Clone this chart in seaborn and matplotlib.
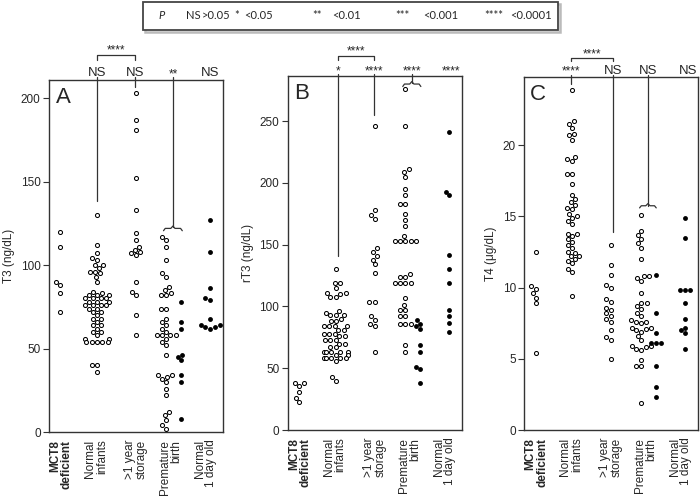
"""
Thyroid hormone levels by group: three beeswarm panels (T3, rT3, T4)
"""

import warnings
import matplotlib
matplotlib.use('Agg')
import matplotlib.pyplot as plt
from matplotlib.patches import Rectangle
import pandas as pd
import seaborn as sns

warnings.filterwarnings("ignore")  # swarm gutter warnings

sns.set_style("white")
plt.rcParams['font.family'] = ['Liberation Sans', 'DejaVu Sans']

group_labels = ["MCT8\ndeficient", "Normal\ninfants", ">1 year\nstorage",
                "Premature\nbirth", "Normal\n1 day old"]

# --- T3 (ng/dL) ---
t3_mct8 = [120, 111, 90, 88, 83, 72]
t3_normal = [130, 112, 107, 104, 103, 100, 100, 98, 96, 96, 95, 93, 90, 84, 83,
             82, 82, 82, 80, 80, 80, 80, 78, 78, 78, 76, 76, 76, 76, 74, 74, 72,
             72, 70, 68, 68, 66, 64, 64, 62, 60, 60, 58, 56, 56, 54, 54, 54, 54,
             54, 40, 40, 36]
t3_storage = [203, 187, 181, 152, 133, 119, 115, 111, 109, 108, 107, 106, 90,
              84, 82, 70, 58]
t3_premature = [117, 115, 111, 103, 95, 93, 87, 85, 83, 82, 82, 74, 74, 68, 66,
                64, 62, 60, 58, 58, 58, 58, 56, 54, 52, 46, 34, 34, 33, 32, 30,
                26, 22, 12, 10, 7, 4, 2]
t3_premature_filled = [78, 66, 62, 46, 45, 43, 34, 30, 8]
t3_day1 = [127, 108, 86, 80, 79, 68, 64, 64, 63, 63, 62]

# --- rT3 (ng/dL) ---
rt3_mct8 = [38, 38, 36, 31, 26, 23]
rt3_normal = [130, 119, 119, 115, 111, 111, 110, 108, 108, 96, 95, 93, 93, 93,
              90, 88, 88, 84, 84, 84, 84, 81, 81, 78, 78, 78, 76, 76, 73, 73,
              73, 70, 70, 67, 67, 63, 63, 63, 63, 63, 61, 61, 58, 58, 58, 58,
              58, 56, 43, 40]
rt3_storage = [246, 178, 174, 171, 147, 144, 141, 138, 134, 127, 104, 104, 92,
               89, 86, 84, 63]
rt3_premature = [276, 246, 211, 209, 205, 195, 190, 183, 183, 175, 170, 165,
                 157, 153, 153, 153, 153, 153, 126, 124, 124, 119, 119, 119,
                 119, 107, 101, 97, 97, 92, 92, 86, 86, 86, 69, 63]
rt3_premature_filled = [89, 86, 84, 82, 69, 63, 51, 49, 38]
rt3_day1 = [241, 193, 190, 142, 130, 119, 97, 92, 87, 79]

# --- T4 (ug/dL) ---
t4_mct8 = [12.5, 10.1, 9.9, 9.6, 9.3, 8.9, 5.4]
t4_normal = [23.9, 21.7, 21.5, 21.2, 20.8, 20.7, 20.4, 19.2, 19.0, 18.9, 18.0,
             18.0, 17.3, 16.5, 16.2, 16.0, 15.8, 15.6, 15.5, 15.2, 15.0, 14.9,
             14.7, 14.5, 13.8, 13.8, 13.6, 13.4, 13.2, 13.0, 12.8, 12.5, 12.4,
             12.2, 12.2, 12.0, 11.9, 11.7, 11.3, 11.1, 9.4]
t4_storage = [13.0, 11.6, 10.9, 10.2, 10.0, 9.2, 9.0, 8.6, 8.4, 8.2, 8.0, 7.8,
              7.6, 7.0, 6.5, 6.3, 5.0]
t4_premature = [15.1, 14.0, 13.7, 13.4, 13.1, 12.8, 12.0, 10.8, 10.8, 10.7,
                10.5, 9.6, 8.9, 8.9, 8.7, 8.5, 8.2, 8.0, 7.7, 7.6, 7.6, 7.5,
                7.2, 7.2, 7.1, 7.0, 6.9, 6.6, 6.3, 5.9, 5.9, 5.8, 5.7, 5.6, 4.9,
                4.5, 4.5, 1.9]
t4_premature_filled = [10.9, 8.2, 6.8, 6.1, 6.1, 6.1, 4.5, 3.0, 2.3]
t4_day1 = [14.9, 13.5, 9.8, 9.8, 9.8, 8.9, 7.8, 7.2, 7.0, 6.8, 5.7]

# column centres along x (layout only)
X_COLS = {"mct8": -0.17, "normal": 0.88, "storage": 1.99,
          "premature": 2.87, "premature_filled": 3.30, "day1": 4.13}
X_TICKS = [-0.15, 0.85, 2.0, 3.0, 4.0]
FILLED = ("premature_filled", "day1")
LINE = "#333333"


def panel_frame(groups):
    rows = []
    for key, values in groups.items():
        for v in values:
            rows.append({"x": X_COLS[key], "value": v, "filled": key in FILLED})
    return pd.DataFrame(rows)


def vline(ax, x, y0, y1):
    ax.plot([x, x], [y0, y1], color=LINE, lw=0.9, clip_on=False)


def bracket(ax, x0, x1, y, drop):
    ax.plot([x0, x0, x1, x1], [y - drop, y, y, y - drop], color=LINE, lw=0.9,
            clip_on=False)


def brace(ax, xc, half, y, h):
    xs = [xc - half, xc - half + 0.05, xc - 0.06, xc, xc + 0.06,
          xc + half - 0.05, xc + half]
    ys = [y - h, y, y, y + h, y, y, y - h]
    ax.plot(xs, ys, color=LINE, lw=0.9, clip_on=False)


def label(ax, x, y, s, size=9.5):
    ax.text(x, y, s, ha="center", va="center", fontsize=size, clip_on=False)


def draw_panel(ax, df, ymax, yticks, ylabel, letter):
    sns.swarmplot(data=df[~df["filled"]], x="x", y="value", native_scale=True,
                  color="white", edgecolor="black", linewidth=0.75, size=2.9,
                  ax=ax)
    sns.swarmplot(data=df[df["filled"]], x="x", y="value", native_scale=True,
                  color="black", linewidth=0, size=3.5, ax=ax)
    ax.set_xlim(-0.5, 4.5)
    ax.set_ylim(0, ymax)
    ax.set_yticks(yticks)
    ax.set_xticks(X_TICKS)
    ax.set_xticklabels(group_labels, rotation=90, fontsize=8.5,
                       linespacing=0.95)
    for i, t in enumerate(ax.get_xticklabels()):
        t.set_multialignment("right")
        if i == 0:
            t.set_fontweight("bold")
    ax.set_xlabel("")
    ax.set_ylabel(ylabel, fontsize=8.5, labelpad=4)
    ax.tick_params(axis="y", left=True, length=4, width=0.8, labelsize=8.5,
                   color=LINE, pad=2)
    ax.tick_params(axis="x", bottom=False, pad=2)
    for sp in ax.spines.values():
        sp.set_visible(True)
        sp.set_color(LINE)
        sp.set_linewidth(1.0)
    ax.text(0.08, 0.95, letter, transform=ax.transAxes, ha="center",
            va="center", fontsize=16)


fig = plt.figure(figsize=(7, 4.96), dpi=100)

# Panel A: T3
axA = fig.add_axes([0.070, 0.129, 0.2486, 0.710])
dfA = panel_frame({"mct8": t3_mct8, "normal": t3_normal, "storage": t3_storage,
                   "premature": t3_premature,
                   "premature_filled": t3_premature_filled, "day1": t3_day1})
draw_panel(axA, dfA, 211, [0, 50, 100, 150, 200], "T3 (ng/dL)", "A")
label(axA, 0.88, 215, "NS")
label(axA, 1.97, 215, "NS")
label(axA, 3.06, 214, "**", 8.5)
label(axA, 4.13, 215, "NS")
bracket(axA, 0.88, 1.97, 225.7, 2.8)
label(axA, 1.425, 228.5, "****", 8.5)
vline(axA, 0.88, 212.5, 138.5)
vline(axA, 1.97, 212.5, 207)
vline(axA, 3.06, 212.5, 123)
brace(axA, 3.06, 0.27, 122, 1.4)

# Panel B: rT3
axB = fig.add_axes([0.411, 0.133, 0.249, 0.714])
dfB = panel_frame({"mct8": rt3_mct8, "normal": rt3_normal,
                   "storage": rt3_storage, "premature": rt3_premature,
                   "premature_filled": rt3_premature_filled, "day1": rt3_day1})
draw_panel(axB, dfB, 286.6, [0, 50, 100, 150, 200, 250], "rT3 (ng/dL)", "B")
label(axB, 0.94, 290, "*", 8.5)
label(axB, 1.97, 290, "****", 8.5)
label(axB, 3.06, 290, "****", 8.5)
label(axB, 4.18, 290, "****", 8.5)
bracket(axB, 0.94, 1.97, 302.8, 3)
label(axB, 1.455, 306, "****", 8.5)
vline(axB, 0.94, 288, 141)
vline(axB, 1.97, 288, 255)
vline(axB, 3.06, 288, 281)
brace(axB, 3.06, 0.26, 280, 2)

# Panel C: T4
axC = fig.add_axes([0.749, 0.133, 0.248, 0.712])
dfC = panel_frame({"mct8": t4_mct8, "normal": t4_normal, "storage": t4_storage,
                   "premature": t4_premature,
                   "premature_filled": t4_premature_filled, "day1": t4_day1})
draw_panel(axC, dfC, 24.8, [0, 5, 10, 15, 20], "T4 (\u03bcg/dL)", "C")
label(axC, 0.85, 25.15, "****", 8.5)
label(axC, 2.06, 25.2, "NS")
label(axC, 3.06, 25.2, "NS")
label(axC, 4.21, 25.2, "NS")
bracket(axC, 0.85, 2.06, 26.15, 0.25)
label(axC, 1.455, 26.4, "****", 8.5)
vline(axC, 0.85, 24.95, 24.3)
vline(axC, 2.06, 24.95, 13.9)
vline(axC, 3.06, 24.95, 15.75)
brace(axC, 3.06, 0.24, 15.75, 0.15)

# P-value key box across the top
fig.add_artist(Rectangle((0.207, 0.935), 0.593, 0.0565, transform=fig.transFigure,
                         fill=False, edgecolor="#bbbbbb", lw=1.8))
fig.add_artist(Rectangle((0.204, 0.9395), 0.593, 0.0565, transform=fig.transFigure,
                         facecolor="white", edgecolor="#444444", lw=1.3))
key_items = [(158, "P"), (186, "NS"), (202, ">0.05"), (234, "*"), (244, "<0.05"),
             (312, "**"), (332, "<0.01"), (395, "***"), (423, "<0.001"),
             (484, "****"), (510, "<0.0001")]
for px, s in key_items:
    fig.text(px / 700, 0.968, s, ha="left", va="center", fontsize=8,
             family=["Lato", "DejaVu Sans"],
             style="italic" if s == "P" else "normal")

fig.savefig("out.png", dpi=100, facecolor="white")
plt.close(fig)
